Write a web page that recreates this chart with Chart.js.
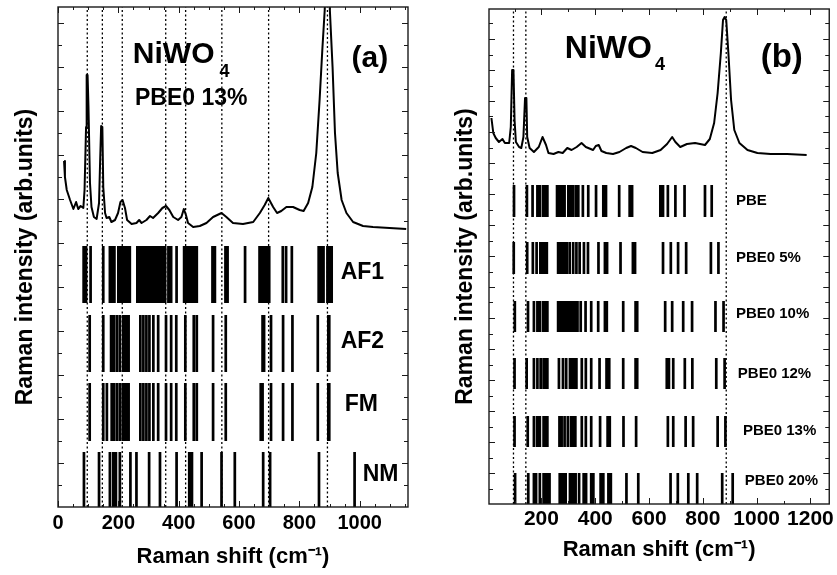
<!DOCTYPE html>
<html>
<head>
<meta charset="utf-8">
<script src="https://cdn.jsdelivr.net/npm/chart.js@4.4.1/dist/chart.umd.min.js"></script>
<style>
html, body { margin: 0; padding: 0; background: #fff; }
#wrap { position: relative; width: 837px; height: 575px; }
#ca { position: absolute; left: 0; top: 0; }
#cb { position: absolute; left: 440px; top: 0; }
</style>
</head>
<body>
<div id="wrap">
<canvas id="ca" width="420" height="575"></canvas>
<canvas id="cb" width="397" height="575"></canvas>
</div>
<script>
// ---- panel (a): measured spectrum + computed modes (AF1, AF2, FM, NM)
var specA_x = [20, 23, 29, 40, 51, 60, 67, 75, 84, 88, 93, 95, 98, 101, 106, 111, 119, 128, 136, 140, 143, 147, 150, 156, 161, 170, 177, 189, 199, 207, 214, 222, 229, 244, 260, 269, 277, 293, 305, 315, 332, 346, 358, 369, 382, 398, 409, 417, 424, 431, 448, 470, 492, 514, 542, 558, 580, 613, 647, 669, 685, 697, 713, 726, 740, 757, 779, 801, 814, 829, 843, 856, 867, 876, 884, 890, 896, 901, 910, 918, 927, 940, 956, 978, 1011, 1044, 1099, 1154];
var specA_y = [346, 330, 317, 307, 298, 305, 298, 301, 299, 317, 380, 432, 432, 400, 324, 300, 290, 288, 304, 350, 381, 380, 320, 294, 289, 290, 285, 287, 294, 305, 307, 299, 287, 283, 284, 287, 284, 287, 291, 289, 294, 299, 301, 297, 290, 287, 290, 298, 292, 284, 280, 281, 284, 290, 294, 290, 284, 283, 285, 294, 302, 309, 300, 294, 296, 300, 300, 297, 296, 304, 320, 354, 407, 457, 497, 560, 560, 497, 440, 374, 334, 307, 294, 285, 281, 280, 279, 278];

var modesAF1 = [85, 93, 108, 150, 172, 180, 187, 200, 207, 215, 222, 230, 238, 263, 270, 278, 285, 292, 300, 307, 314, 322, 330, 338, 347, 355, 366, 375, 393, 418, 427, 435, 443, 451, 460, 512, 520, 555, 562, 620, 668, 676, 684, 692, 700, 745, 756, 775, 864, 872, 880, 893, 900, 907];
var modesAF2 = [105, 150, 176, 185, 195, 205, 216, 222, 228, 234, 273, 283, 293, 303, 316, 332, 358, 375, 392, 422, 450, 460, 514, 556, 678, 683, 706, 746, 777, 861, 896, 899];
var modesFM = [105, 150, 162, 178, 186, 196, 206, 216, 222, 228, 234, 273, 283, 293, 303, 316, 332, 358, 375, 392, 422, 450, 460, 514, 556, 672, 678, 706, 746, 777, 861, 896, 899];
var modesNM = [86, 136, 172, 183, 192, 205, 240, 260, 302, 338, 393, 435, 444, 476, 542, 586, 680, 703, 865, 983];
var rowsA = [[204, 261], [135, 192], [66, 124], [0, 55]];
var namesA = ['AF1', 'AF2', 'FM', 'NM'];
var dotsA = [97, 147, 213, 357, 423, 543, 698, 893];
var ticksA = [0, 200, 400, 600, 800, 1000];

// ---- panel (b): measured spectrum + PBE / PBE0 modes
var specB_x = [14, 21, 30, 42, 55, 64, 80, 86, 91, 96, 100, 105, 117, 125, 133, 139, 144, 147, 156, 172, 190, 204, 217, 226, 245, 263, 279, 296, 312, 331, 349, 365, 392, 402, 413, 423, 441, 466, 490, 515, 533, 551, 576, 612, 643, 667, 686, 698, 716, 741, 771, 808, 826, 842, 855, 867, 875, 881, 887, 895, 905, 917, 936, 966, 1003, 1052, 1113, 1186];
var specB_y = [386, 371, 366, 362, 365, 361, 361, 377, 434, 434, 384, 362, 357, 356, 367, 406, 406, 367, 356, 352, 357, 367, 359, 351, 350, 352, 351, 356, 354, 357, 361, 357, 354, 358, 359, 353, 351, 350, 352, 356, 358, 356, 352, 351, 354, 360, 367, 362, 357, 360, 361, 359, 365, 381, 411, 451, 484, 487, 484, 451, 404, 374, 361, 354, 351, 350, 350, 349];

var modesPBE = [98, 146, 167, 185, 194, 206, 214, 222, 258, 264, 270, 278, 286, 300, 308, 316, 327, 337, 354, 374, 403, 430, 440, 489, 528, 537, 642, 652, 670, 698, 732, 808, 833];
var modesP5 = [97, 147, 168, 182, 196, 204, 212, 220, 262, 270, 278, 286, 294, 305, 318, 330, 342, 358, 373, 412, 436, 444, 494, 540, 548, 652, 681, 708, 738, 830, 858];
var modesP10 = [101, 150, 172, 185, 194, 206, 214, 222, 262, 270, 278, 286, 294, 304, 314, 324, 334, 346, 364, 385, 411, 436, 443, 504, 550, 556, 660, 686, 727, 760, 847, 877];
var modesP12 = [100, 145, 172, 185, 197, 208, 215, 222, 265, 280, 292, 306, 314, 322, 330, 350, 365, 385, 416, 442, 452, 504, 550, 556, 666, 674, 690, 733, 761, 850, 881];
var modesP13 = [100, 149, 172, 184, 194, 208, 215, 222, 267, 275, 286, 298, 310, 318, 326, 350, 365, 385, 418, 446, 454, 505, 552, 670, 690, 736, 764, 855, 884];
var modesP20 = [102, 151, 172, 180, 194, 208, 215, 222, 230, 268, 275, 282, 290, 306, 313, 320, 327, 340, 357, 366, 385, 393, 420, 430, 449, 458, 516, 560, 680, 707, 746, 779, 872, 911];
var rowsB = [[287, 319], [230, 262], [172, 203], [115, 146], [57, 88], [0, 31]];
var namesB = ['PBE', 'PBE0 5%', 'PBE0 10%', 'PBE0 12%', 'PBE0 13%', 'PBE0 20%'];
var dotsB = [96, 142, 887];
var ticksB = [200, 400, 600, 800, 1000, 1200];

var FONT = 'Arial, "Liberation Sans", sans-serif';

function zip(xs, ys) {
    return xs.map(function (v, i) { return { x: v, y: ys[i] }; });
}

function sticks(xs, lo, hi) {
    var pts = [];
    xs.forEach(function (v) {
        pts.push({ x: v, y: lo }, { x: v, y: hi }, { x: v, y: null });
    });
    return pts;
}

function buildDatasets(specX, specY, modes, rows, dots, yMax) {
    var ds = [];
    ds.push({ data: sticks(dots, 0, yMax), borderColor: '#000', borderWidth: 1.3, borderDash: [2, 2.5] });
    modes.forEach(function (m, i) {
        ds.push({ data: sticks(m, rows[i][0], rows[i][1]), borderColor: '#000', borderWidth: 2.7, borderCapStyle: 'butt' });
    });
    ds.push({ data: zip(specX, specY), borderColor: '#000', borderWidth: 2, borderJoinStyle: 'round' });
    return ds;
}

function framePlugin(cfg) {
    return {
        id: 'frame',
        afterDatasetsDraw: function (chart) {
            var ctx = chart.ctx, a = chart.chartArea, xs = chart.scales.x, ys = chart.scales.y;
            var v, px, len, n;
            ctx.save();
            ctx.strokeStyle = '#1a1a1a';
            ctx.lineWidth = 1;
            ctx.beginPath();
            for (v = Math.ceil(xs.min / cfg.xMinor) * cfg.xMinor; v <= xs.max; v += cfg.xMinor) {
                px = Math.round(xs.getPixelForValue(v)) + 0.5;
                len = cfg.xTicks.indexOf(v) >= 0 ? 6 : 3;
                ctx.moveTo(px, a.bottom); ctx.lineTo(px, a.bottom - len);
                ctx.moveTo(px, a.top); ctx.lineTo(px, a.top + len);
            }
            for (n = 1, v = cfg.yStep; v < ys.max; v += cfg.yStep, n++) {
                px = Math.round(ys.getPixelForValue(v)) + 0.5;
                len = n % 2 === 0 ? 6 : 4;
                ctx.moveTo(a.left, px); ctx.lineTo(a.left + len, px);
                ctx.moveTo(a.right, px); ctx.lineTo(a.right - len, px);
            }
            ctx.stroke();
            ctx.lineWidth = 1.4;
            ctx.strokeRect(a.left, a.top, a.right - a.left, a.bottom - a.top);
            ctx.restore();
        }
    };
}

function textPlugin(cfg) {
    return {
        id: 'texts',
        afterDraw: function (chart) {
            var ctx = chart.ctx, a = chart.chartArea, xs = chart.scales.x, ys = chart.scales.y;
            ctx.save();
            ctx.fillStyle = '#000';
            ctx.textAlign = 'left';
            cfg.texts.forEach(function (t) {
                var x = xs.getPixelForValue(t.x), y = ys.getPixelForValue(t.y);
                ctx.font = t.font + ' ' + FONT;
                ctx.textBaseline = t.base || 'alphabetic';
                ctx.fillText(t.text, x, y);
                if (t.sub) {
                    var w = ctx.measureText(t.text).width;
                    ctx.font = t.subFont + ' ' + FONT;
                    ctx.fillText(t.sub, x + w + t.subGap, y + t.subDrop);
                }
            });
            // y title
            ctx.translate(cfg.yTitleX, (a.top + a.bottom) / 2);
            ctx.rotate(-Math.PI / 2);
            ctx.font = 'bold 23px ' + FONT;
            ctx.textAlign = 'center';
            ctx.textBaseline = 'middle';
            ctx.fillText('Raman intensity (arb.units)', 0, 0);
            ctx.restore();
        }
    };
}

function makeChart(id, cfg) {
    return new Chart(document.getElementById(id), {
        type: 'line',
        data: { datasets: cfg.datasets },
        options: {
            responsive: false,
            animation: false,
            events: [],
            layout: { padding: { left: cfg.padL, right: cfg.padR, top: cfg.padT, bottom: 0 } },
            plugins: { legend: { display: false }, tooltip: { enabled: false } },
            elements: { point: { radius: 0 }, line: { tension: 0, fill: false } },
            scales: {
                x: {
                    type: 'linear',
                    min: cfg.xMin,
                    max: cfg.xMax,
                    grid: { display: false, drawTicks: false },
                    border: { display: false },
                    ticks: {
                        color: '#000', font: { family: FONT, size: cfg.tickSize, weight: 'bold' },
                        padding: cfg.tickPad, maxRotation: 0, autoSkip: false,
                        callback: function (v) { return String(v); }
                    },
                    afterBuildTicks: function (s) { s.ticks = cfg.xTicks.map(function (v) { return { value: v }; }); },
                    afterFit: function (s) { s.height = cfg.axisH; },
                    title: { display: true, text: 'Raman shift (cm\u207B\u00B9)', color: '#000', font: { family: FONT, size: 22, weight: 'bold' }, padding: { top: 0, bottom: cfg.titlePad } }
                },
                y: { display: false, min: 0, max: cfg.yMax }
            }
        },
        plugins: [framePlugin(cfg), textPlugin(cfg)]
    });
}

var cfgA = {
    datasets: buildDatasets(specA_x, specA_y, [modesAF1, modesAF2, modesFM, modesNM], rowsA, dotsA, 500),
    padL: 58, padR: 12, padT: 7, axisH: 68, tickPad: 4, tickSize: 20, titlePad: 5,
    xMin: 0, xMax: 1160, yMax: 500, xTicks: ticksA, xMinor: 50, yStep: 22, yTitleX: 26,
    texts: [
        { text: 'NiWO', x: 248, y: 444, font: 'bold 30px', sub: '4', subFont: 'bold 18px', subGap: 5, subDrop: 14 },
        { text: 'PBE0 13%', x: 255, y: 402, font: 'bold 23px' },
        { text: '(a)', x: 973, y: 440, font: 'bold 30px' },
        { text: namesA[0], x: 937, y: 234, font: 'bold 23px', base: 'middle' },
        { text: namesA[1], x: 937, y: 165, font: 'bold 23px', base: 'middle' },
        { text: namesA[2], x: 950, y: 102, font: 'bold 23px', base: 'middle' },
        { text: namesA[3], x: 1010, y: 32, font: 'bold 23px', base: 'middle' }
    ]
};

var cfgB = {
    datasets: buildDatasets(specB_x, specB_y, [modesPBE, modesP5, modesP10, modesP12, modesP13, modesP20], rowsB, dotsB, 495),
    padL: 49, padR: 4, padT: 9, axisH: 71, tickPad: 3, tickSize: 21, titlePad: 12,
    xMin: 5, xMax: 1270, yMax: 495, xTicks: ticksB, xMinor: 100, yStep: 15.5, yTitleX: 26,
    texts: [
        { text: 'NiWO', x: 287, y: 446, font: 'bold 32px', sub: '4', subFont: 'bold 18px', subGap: 3, subDrop: 12 },
        { text: '(b)', x: 1015, y: 437, font: 'bold 33px' },
        { text: namesB[0], x: 923, y: 303, font: 'bold 15px', base: 'middle' },
        { text: namesB[1], x: 923, y: 246, font: 'bold 15px', base: 'middle' },
        { text: namesB[2], x: 923, y: 190, font: 'bold 15px', base: 'middle' },
        { text: namesB[3], x: 930, y: 130, font: 'bold 15px', base: 'middle' },
        { text: namesB[4], x: 949, y: 73, font: 'bold 15px', base: 'middle' },
        { text: namesB[5], x: 956, y: 23, font: 'bold 15px', base: 'middle' }
    ]
};

makeChart('ca', cfgA);
makeChart('cb', cfgB);
</script>
</body>
</html>
